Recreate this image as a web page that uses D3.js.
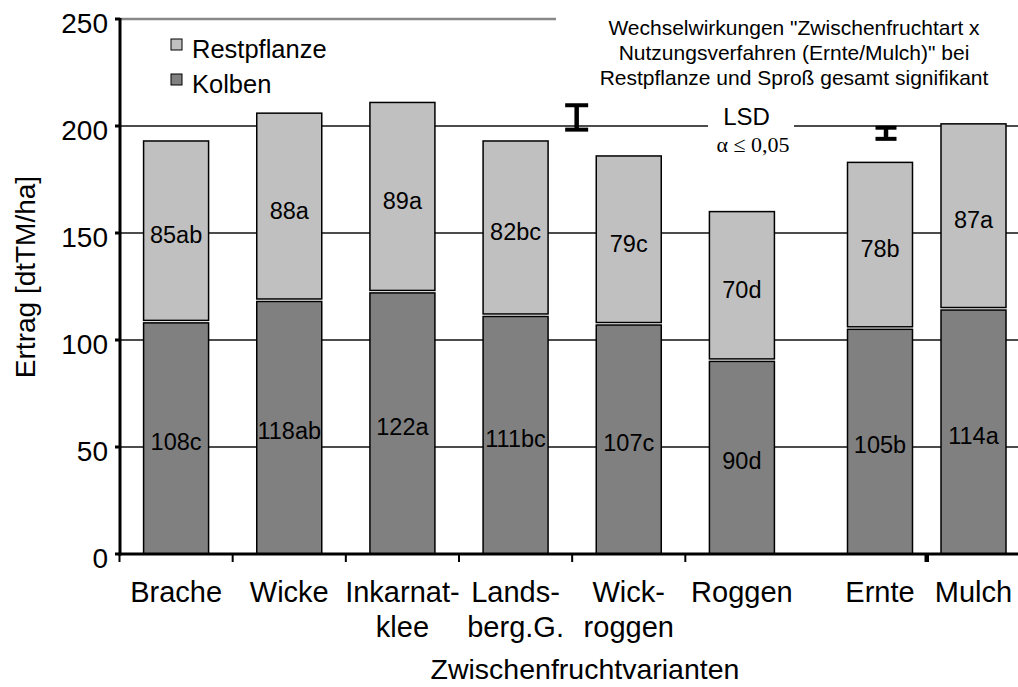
<!DOCTYPE html>
<html>
<head>
<meta charset="utf-8">
<script src="https://cdn.jsdelivr.net/npm/d3@7"></script>
<style>
  html, body { margin: 0; padding: 0; background: #fff; }
  svg { display: block; }
  text { font-family: "Liberation Sans", Arial, sans-serif; fill: #000; }
</style>
</head>
<body>
<script>
// ---------- data ----------
const categories1 = ["Brache", "Wicke", "Inkarnatklee", "Landsberg.G.", "Wickroggen", "Roggen"];
const tickLabels1 = [["Brache"], ["Wicke"], ["Inkarnat-", "klee"], ["Lands-", "berg.G."], ["Wick-", "roggen"], ["Roggen"]];
const kolben1 = [108, 118, 122, 111, 107, 90];
const kolbenLetters1 = ["c", "ab", "a", "bc", "c", "d"];
const rest1 = [85, 88, 89, 82, 79, 70];
const restLetters1 = ["ab", "a", "a", "bc", "c", "d"];

const categories2 = ["Ernte", "Mulch"];
const tickLabels2 = [["Ernte"], ["Mulch"]];
const kolben2 = [105, 114];
const kolbenLetters2 = ["b", "a"];
const rest2 = [78, 87];
const restLetters2 = ["b", "a"];

const yTicks = [0, 50, 100, 150, 200, 250];
const gridValues = [50, 100, 150, 200];
const lsdCenters = [204, 196.6];
const lsdHalf = [5.7, 2.6];

const seriesNames = ["Restpflanze", "Kolben"];
const titleLines = ["Wechselwirkungen \"Zwischenfruchtart x", "Nutzungsverfahren (Ernte/Mulch)\" bei", "Restpflanze und Sproß gesamt signifikant"];
const yTitle = "Ertrag [dtTM/ha]";
const xTitle = "Zwischenfruchtvarianten";

// ---------- layout ----------
const W = 1018, H = 687;
const colRest = "#c0c0c0", colKolben = "#808080";
const svg = d3.select("body").append("svg").attr("width", W).attr("height", H);

const y = d3.scaleLinear().domain([0, 250]).range([554, 19]);
const x1 = d3.scaleBand().domain(categories1).range([119.5, 798.5]).padding(0);
const x2 = d3.scaleBand().domain(categories2).range([833.25, 1020.25]).padding(0);
const barW = 65;
const xLeft = 120, xRight = W;

// gridlines
svg.append("g").selectAll("line").data(gridValues).join("line")
  .attr("x1", xLeft).attr("x2", xRight)
  .attr("y1", d => y(d)).attr("y2", d => y(d))
  .attr("stroke", "#111").attr("stroke-width", 1.3);

// top border (gray)
svg.append("line").attr("x1", xLeft).attr("x2", xRight)
  .attr("y1", y(250)).attr("y2", y(250))
  .attr("stroke", "#888").attr("stroke-width", 2.5);

// bars
function drawGroup(xs, cats, kol, kolL, rst, rstL) {
  const g = svg.append("g");
  cats.forEach((c, i) => {
    const cx = xs(c) + xs.bandwidth() / 2;
    const x0 = cx - barW / 2;
    g.append("rect").attr("x", x0).attr("y", y(kol[i])).attr("width", barW)
      .attr("height", y(0) - y(kol[i])).attr("fill", colKolben)
      .attr("stroke", "#000").attr("stroke-width", 1.5);
    const top = kol[i] + rst[i];
    g.append("rect").attr("x", x0).attr("y", y(top)).attr("width", barW)
      .attr("height", y(kol[i]) - y(top) - 2.5).attr("fill", colRest)
      .attr("stroke", "#000").attr("stroke-width", 1.5);
    g.append("text").attr("x", cx).attr("y", y(kol[i] / 2) + 11.5)
      .attr("text-anchor", "middle").attr("font-size", 23.5)
      .text(kol[i] + kolL[i]);
    g.append("text").attr("x", cx).attr("y", y(kol[i] + rst[i] / 2) + 11.5)
      .attr("text-anchor", "middle").attr("font-size", 23.5)
      .text(rst[i] + rstL[i]);
  });
}
drawGroup(x1, categories1, kolben1, kolbenLetters1, rest1, restLetters1);
drawGroup(x2, categories2, kolben2, kolbenLetters2, rest2, restLetters2);

// title white box
svg.append("rect").attr("x", 556).attr("y", 0).attr("width", W - 556).attr("height", 95).attr("fill", "#fff");
svg.append("g").selectAll("text").data(titleLines).join("text")
  .attr("x", 794).attr("y", (d, i) => 35 + i * 25)
  .attr("text-anchor", "middle").attr("font-size", 21)
  .text(d => d);

// LSD label box
svg.append("rect").attr("x", 708).attr("y", 100).attr("width", 86).attr("height", 58).attr("fill", "#fff");
svg.append("text").attr("x", 746.5).attr("y", 125).attr("text-anchor", "middle")
  .attr("font-size", 24).text("LSD");
svg.append("text").attr("x", 753).attr("y", 151.5).attr("text-anchor", "middle")
  .attr("font-size", 22).style("font-family", "'Liberation Serif', 'Times New Roman', serif")
  .text("α ≤ 0,05");

// LSD error bars
const lsdX = [x1("Wickroggen") + 4.5, x2("Ernte") + x2.bandwidth() / 2 + 6];
lsdCenters.forEach((c, i) => {
  const g = svg.append("g").attr("stroke", "#000");
  const capW = i === 0 ? 23 : 21;
  const t = y(c + lsdHalf[i]), b = y(c - lsdHalf[i]);
  g.append("line").attr("x1", lsdX[i]).attr("x2", lsdX[i]).attr("y1", t).attr("y2", b).attr("stroke-width", 4.5);
  g.append("line").attr("x1", lsdX[i] - capW / 2).attr("x2", lsdX[i] + capW / 2).attr("y1", t).attr("y2", t).attr("stroke-width", 4);
  g.append("line").attr("x1", lsdX[i] - capW / 2).attr("x2", lsdX[i] + capW / 2).attr("y1", b).attr("y2", b).attr("stroke-width", 4);
});

// axes
svg.append("line").attr("x1", xLeft).attr("x2", xLeft).attr("y1", y(250) - 1).attr("y2", y(0) + 1.5)
  .attr("stroke", "#000").attr("stroke-width", 3);
svg.append("line").attr("x1", xLeft - 1.5).attr("x2", xRight).attr("y1", y(0)).attr("y2", y(0))
  .attr("stroke", "#000").attr("stroke-width", 3);

// y ticks and labels
const yg = svg.append("g");
yg.selectAll("line").data(yTicks).join("line")
  .attr("x1", xLeft - 5).attr("x2", xLeft).attr("y1", d => y(d)).attr("y2", d => y(d))
  .attr("stroke", "#000").attr("stroke-width", 3);
yg.selectAll("text").data(yTicks).join("text")
  .attr("x", 108).attr("y", d => y(d) + 14).attr("text-anchor", "end")
  .attr("font-size", 28).text(d => d);

// x ticks
const xTickPos = categories1.map(c => x1(c));
svg.append("g").selectAll("line").data(xTickPos).join("line")
  .attr("x1", d => d).attr("x2", d => d).attr("y1", y(0)).attr("y2", y(0) + 8)
  .attr("stroke", "#000").attr("stroke-width", 2);
svg.append("line").attr("x1", x2("Mulch")).attr("x2", x2("Mulch")).attr("y1", y(0)).attr("y2", y(0) + 8)
  .attr("stroke", "#000").attr("stroke-width", 4.5);

// x tick labels
function drawTickLabels(xs, cats, labels) {
  cats.forEach((c, i) => {
    const cx = xs(c) + xs.bandwidth() / 2;
    labels[i].forEach((line, j) => {
      svg.append("text").attr("x", cx).attr("y", 601.5 + j * 35)
        .attr("text-anchor", "middle").attr("font-size", 29).text(line);
    });
  });
}
drawTickLabels(x1, categories1, tickLabels1);
drawTickLabels(x2, categories2, tickLabels2);

// axis titles
svg.append("text").attr("x", 585).attr("y", 679).attr("text-anchor", "middle")
  .attr("font-size", 28.5).text(xTitle);
svg.append("text").attr("transform", "translate(35,277) rotate(-90)")
  .attr("text-anchor", "middle").attr("font-size", 28).text(yTitle);

// legend
const lg = svg.append("g");
[colRest, colKolben].forEach((col, i) => {
  lg.append("rect").attr("x", 171).attr("y", 39 + i * 35).attr("width", 11).attr("height", 11)
    .attr("fill", col).attr("stroke", "#000").attr("stroke-width", 1);
  lg.append("text").attr("x", 192).attr("y", 58 + i * 34.7).attr("font-size", 25.5).text(seriesNames[i]);
});
</script>
</body>
</html>
